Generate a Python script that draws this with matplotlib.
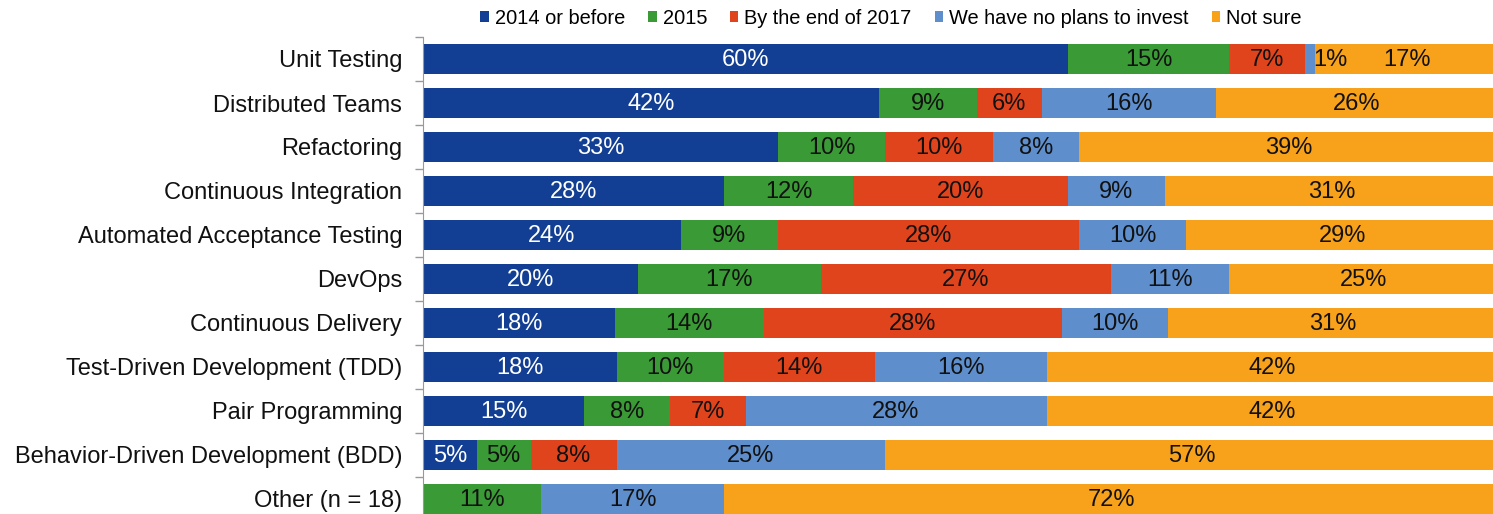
import matplotlib
matplotlib.use("Agg")
import matplotlib.pyplot as plt
import numpy as np

plt.rcParams['font.family'] = ['Liberation Sans', 'DejaVu Sans']

categories = ["Unit Testing", "Distributed Teams", "Refactoring", "Continuous Integration",
              "Automated Acceptance Testing", "DevOps", "Continuous Delivery",
              "Test-Driven Development (TDD)", "Pair Programming",
              "Behavior-Driven Development (BDD)", "Other (n = 18)"]
series_names = ["2014 or before", "2015", "By the end of 2017",
                "We have no plans to invest", "Not sure"]
before_2014 = [60, 42, 33, 28, 24, 20, 18, 18, 15, 5, 0]
y2015 = [15, 9, 10, 12, 9, 17, 14, 10, 8, 5, 11]
end_2017 = [7, 6, 10, 20, 28, 27, 28, 14, 7, 8, 0]
no_plans = [1, 16, 8, 9, 10, 11, 10, 16, 28, 25, 17]
not_sure = [17, 26, 39, 31, 29, 25, 31, 42, 42, 57, 72]

colors = ["#123f93", "#3a9a35", "#e0441c", "#5e8ecb", "#f8a21b"]
text_colors = ["white", "#111111", "#111111", "#111111", "#111111"]

fig = plt.figure(figsize=(14.93, 5.14), dpi=100)
ax = fig.add_axes([423/1493, (514-521)/514, 1075/1493, 484/514])

data = [before_2014, y2015, end_2017, no_plans, not_sure]
raw = np.array(data, dtype=float)
totals = raw.sum(axis=0)
shares = raw / totals * 100  # 100% stacked bar

y = np.arange(len(categories))
left = np.zeros(len(categories))
handles = []
for vals, share, col, tc, name in zip(raw, shares, colors, text_colors, series_names):
    bars = ax.barh(y, share, left=left, height=0.66, color=col, label=name)
    handles.append(bars)
    for yi, (l, w, v) in enumerate(zip(left, share, vals)):
        if v > 0:
            xc = l + w / 2
            if v <= 1:
                xc = l + w + 1.4
            ax.text(xc, yi + 0.03, f"{int(v)}%", ha="center", va="center",
                    color=tc, fontsize=17)
    left += share

ax.set_xlim(0, 100)
ax.set_ylim(10.5, -0.5)
ax.set_yticks(y)
ax.set_yticklabels(categories, fontsize=17, color="#111111")
ax.set_yticks(np.arange(-0.5, 11.0, 1.0), minor=True)
ax.tick_params(axis="y", which="major", length=0, pad=15)
ax.tick_params(axis="y", which="minor", length=6, color="#999999", width=1)
ax.set_xticks([])
for s in ["top", "right", "bottom"]:
    ax.spines[s].set_visible(False)
ax.spines["left"].set_color("#999999")

fig.legend(handles=handles, labels=series_names, loc="center",
           bbox_to_anchor=(891/1493, 1 - 18/514), ncol=5, frameon=False,
           fontsize=14.4, handlelength=0.42, handleheight=0.42,
           handletextpad=0.3, columnspacing=1.15, borderaxespad=0)

fig.savefig("out.png", dpi=100)
